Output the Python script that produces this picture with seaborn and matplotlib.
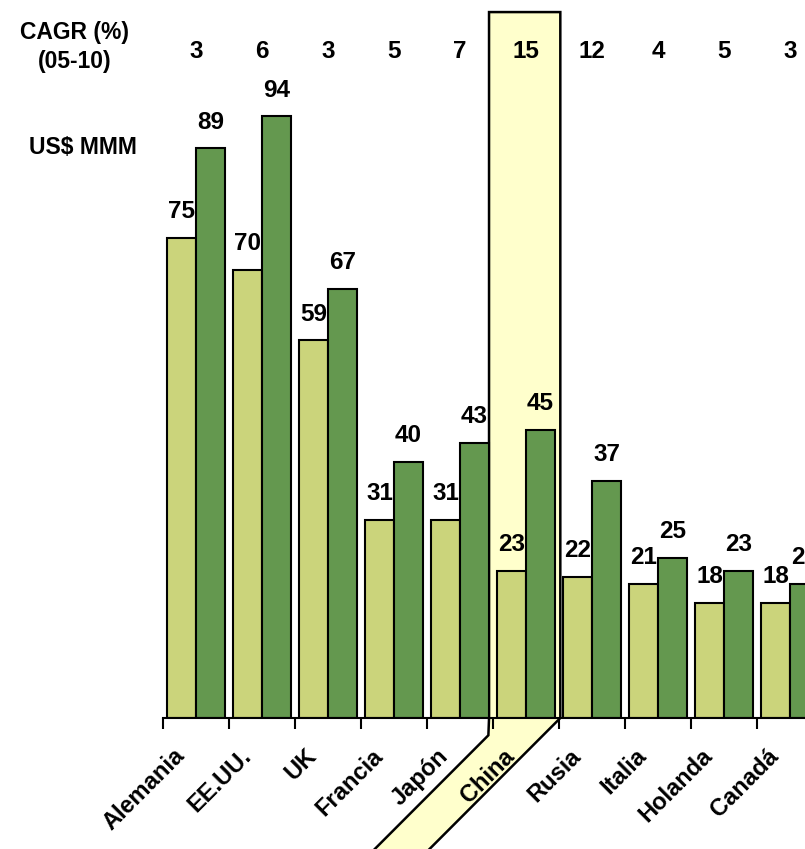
import matplotlib
matplotlib.use("Agg")
import matplotlib.pyplot as plt
import matplotlib.transforms as mtransforms
from matplotlib.patches import Polygon
from matplotlib.ticker import FixedLocator
import pandas as pd
import seaborn as sns

# ---- data -------------------------------------------------------------
countries = ["Alemania", "EE.UU.", "UK", "Francia", "Japón",
             "China", "Rusia", "Italia", "Holanda", "Canadá"]
years = ["2005", "2010"]
values_2005 = [75, 70, 59, 31, 31, 23, 22, 21, 18, 18]
values_2010 = [89, 94, 67, 40, 43, 45, 37, 25, 23, 21]
cagr = [3, 6, 3, 5, 7, 15, 12, 4, 5, 3]
highlight = "China"

colors = ["#CBD47B", "#64984F"]
highlight_fill = "#FFFFCC"

df = pd.DataFrame({
    "country": countries * 2,
    "year": [years[0]] * len(countries) + [years[1]] * len(countries),
    "value": values_2005 + values_2010,
})

# ---- figure -----------------------------------------------------------
sns.set_theme(style="white")
plt.rcParams["font.family"] = ["Liberation Sans", "DejaVu Sans"]
plt.rcParams["font.weight"] = "bold"
plt.rcParams["text.color"] = "black"

W, H = 805, 849
fig = plt.figure(figsize=(W / 100, H / 100), dpi=100)
ax_left, ax_bottom = 163 / W, (H - 718) / H
ax_width, ax_height = 660 / W, 640 / H
ax = fig.add_axes([ax_left, ax_bottom, ax_width, ax_height])

sns.barplot(data=df, x="country", y="value", hue="year", hue_order=years,
            palette=colors, edgecolor="black", linewidth=1.5, width=0.88,
            saturation=1, legend=False, ax=ax, zorder=2)

ax.set_xlim(-0.5, len(countries) - 0.5)
ax.set_ylim(0, 100)
ax.set_xlabel("")
ax.set_ylabel("")

for side in ["left", "right", "top"]:
    ax.spines[side].set_visible(False)
ax.spines["bottom"].set_linewidth(1.5)
ax.spines["bottom"].set_color("black")
ax.spines["bottom"].set_zorder(3)

# category separators as downward ticks, no labels on the axis itself
ax.set_yticks([])
ax.set_xticks([])
ax.xaxis.set_minor_locator(FixedLocator([i - 0.5 for i in range(len(countries) + 1)]))
ax.tick_params(axis="x", which="minor", bottom=True, length=8, width=1.5,
               color="black", direction="out")
ax.patch.set_alpha(0)

# value labels above each bar
for container in ax.containers:
    for bar in container:
        h = bar.get_height()
        ax.annotate(f"{h:.0f}", (bar.get_x() + bar.get_width() / 2, h),
                    xytext=(0, 19), textcoords="offset points",
                    ha="center", va="center", fontsize=17.5, fontweight="bold",
                    color="black", annotation_clip=False, zorder=4)

# blended transform: x in data, y in axes fraction
trans = mtransforms.blended_transform_factory(ax.transData, ax.transAxes)

# highlighted column running down to its slanted category label
hi = countries.index(highlight)
xl, xr = hi - 0.56, hi + 0.52
poly = Polygon([(xl, 1.103), (xr, 1.103), (xr, 0.0),
                (xr - 2.42, -0.25), (xl - 2.17, -0.25),
                (xl - 0.01, -0.027), (xl, 0.0)],
               closed=True, facecolor=highlight_fill, edgecolor="black",
               linewidth=1.8, transform=trans, clip_on=False, zorder=0)
ax.add_patch(poly)

# CAGR row
for i, c in enumerate(cagr):
    ax.text(i, (718 - 52) / 640, f"{c}", transform=trans,
            ha="center", va="center", fontsize=17.5, fontweight="bold",
            color="black", clip_on=False)

fig.text(75 / W, 1 - 47 / H, "CAGR (%)\n(05-10)", ha="center", va="center",
         fontsize=16.5, fontweight="bold", linespacing=1.35, color="black")
fig.text(83 / W, 1 - 148 / H, "US$ MMM", ha="center", va="center",
         fontsize=16.5, fontweight="bold", color="black")

# slanted category labels
for i, name in enumerate(countries):
    ax.text(i - 0.225, -0.054, name, transform=trans, rotation=45,
            rotation_mode="anchor", ha="right", va="center",
            fontsize=17, fontweight="bold", color="black",
            clip_on=False, zorder=4)

fig.savefig("out.png", dpi=100)
